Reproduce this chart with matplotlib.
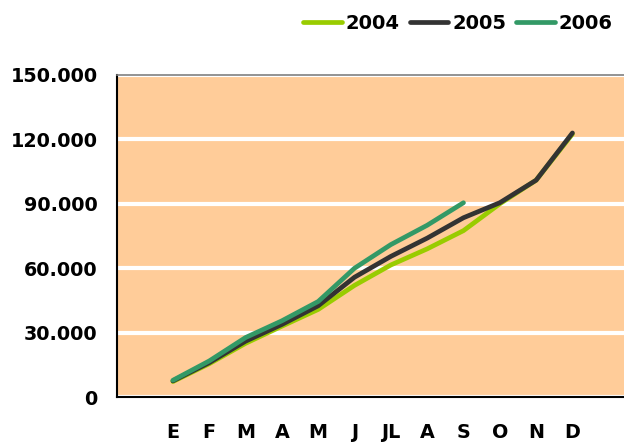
import matplotlib
matplotlib.use('Agg')
import matplotlib.pyplot as plt
from matplotlib.ticker import FuncFormatter

months = ['E', 'F', 'M', 'A', 'M', 'J', 'JL', 'A', 'S', 'O', 'N', 'D']
v2004 = [7200, 15500, 25000, 33000, 40800, 52000, 61500, 69000, 77500, 90000, 101000, 122500]
v2005 = [7500, 16000, 26000, 33800, 42500, 55800, 65500, 74000, 83500, 90500, 101000, 123000]
v2006 = [7800, 16800, 27700, 35500, 44500, 60000, 71000, 80000, 90500]
yticks = [0, 30000, 60000, 90000, 120000, 150000]

plt.rcParams['font.family'] = 'DejaVu Sans'
plt.rcParams['font.weight'] = 'bold'

fig = plt.figure(figsize=(6.24, 4.43), dpi=100)
ax = fig.add_axes([0.1875, 0.1038, 0.8125, 0.7269])
ax.set_facecolor('#FFCC99')

x = list(range(len(months)))
ax.plot(x, v2004, color='#99CC00', lw=3.4, solid_capstyle='round', label='2004')
ax.plot(x, v2005, color='#333333', lw=3.4, solid_capstyle='round', label='2005')
ax.plot(x[:len(v2006)], v2006, color='#339966', lw=3.4, solid_capstyle='round', label='2006')

ax.set_xlim(-1.54, 12.42)
ax.set_ylim(0, 150000)
ax.set_yticks(yticks)
ax.yaxis.set_major_formatter(FuncFormatter(lambda v, p: f'{int(v):,}'.replace(',', '.')))
ax.set_xticks(x)
ax.set_xticklabels(months)
ax.tick_params(axis='y', length=0, pad=14, labelsize=13.8)
ax.tick_params(axis='x', length=0, pad=19, labelsize=13.8)
for lab in ax.get_xticklabels() + ax.get_yticklabels():
    lab.set_fontweight('bold')

ax.grid(axis='y', color='white', lw=3)
ax.set_axisbelow(True)
ax.spines['right'].set_visible(False)
ax.spines['top'].set_color('#808080')
ax.spines['top'].set_linewidth(1.2)
ax.spines['left'].set_linewidth(1.5)
ax.spines['bottom'].set_linewidth(1.5)

fig.legend(loc='upper right', bbox_to_anchor=(1.004, 1.0), ncol=3, frameon=False,
           prop={'size': 14, 'weight': 'bold'}, handlelength=2.0,
           handletextpad=0.2, columnspacing=0.5, borderaxespad=0.3)

fig.savefig('out.png', dpi=100)
